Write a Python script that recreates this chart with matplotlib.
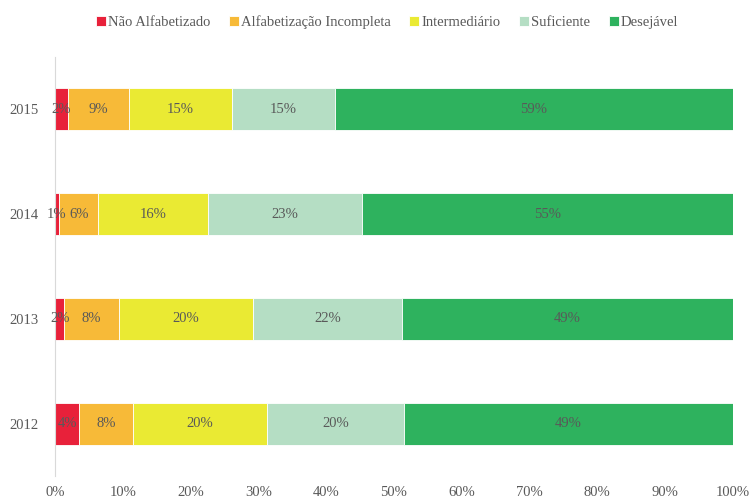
import matplotlib.pyplot as plt
import numpy as np

# data (percent of students per level)
anos = ['2012', '2013', '2014', '2015']
niveis = ['Não Alfabetizado', 'Alfabetização Incompleta', 'Intermediário',
          'Suficiente', 'Desejável']
nao_alf = [3.6, 1.4, 0.6, 1.9]
alf_inc = [7.9, 8.0, 5.8, 9.0]
interm = [19.7, 19.8, 16.1, 15.2]
sufic = [20.3, 22.0, 22.8, 15.2]
desej = [48.5, 48.8, 54.7, 58.7]
rotulos = [
    ['4%', '8%', '20%', '20%', '49%'],
    ['2%', '8%', '20%', '22%', '49%'],
    ['1%', '6%', '16%', '23%', '55%'],
    ['2%', '9%', '15%', '15%', '59%'],
]
cores = ['#E8213A', '#F7BA38', '#EAEA33', '#B5DEC4', '#2EB25E']

plt.rcParams['font.family'] = ['Liberation Serif', 'DejaVu Serif']
cinza = '#595959'

fig = plt.figure(figsize=(7.49, 5.0), dpi=100)
ax = fig.add_axes([0.0734, 0.048, 0.9052, 0.838])

series = [nao_alf, alf_inc, interm, sufic, desej]
y = np.arange(len(anos))
esq = np.zeros(len(anos))
for i, (vals, nome) in enumerate(zip(series, niveis)):
    vals = np.array(vals)
    ax.barh(y, vals, left=esq, height=0.4, color=cores[i], label=nome,
            edgecolor='white', linewidth=0.6)
    for j in range(len(anos)):
        ax.text(esq[j] + vals[j] / 2, y[j], rotulos[j][i], ha='center',
                va='center', fontsize=10.5, color=cinza)
    esq += vals

ax.set_xlim(0, 100)
ax.set_ylim(-0.5, 3.5)
ax.set_yticks(y)
ax.set_yticklabels(anos)
ax.set_xticks(np.arange(0, 101, 10))
ax.set_xticklabels([f'{v}%' for v in range(0, 101, 10)])
ax.tick_params(length=0, labelsize=10.5, labelcolor=cinza)
ax.tick_params(axis='y', pad=12)
ax.tick_params(axis='x', pad=7)
for s in ['top', 'right', 'bottom']:
    ax.spines[s].set_visible(False)
ax.spines['left'].set_color('#D9D9D9')

ax.legend(loc='center', bbox_to_anchor=(0.49, 1.083), ncol=5, frameon=False,
          handlelength=0.7, handleheight=0.7, handletextpad=0.15,
          columnspacing=1.25, fontsize=10.5, labelcolor=cinza)

fig.savefig('out.png', dpi=100)
